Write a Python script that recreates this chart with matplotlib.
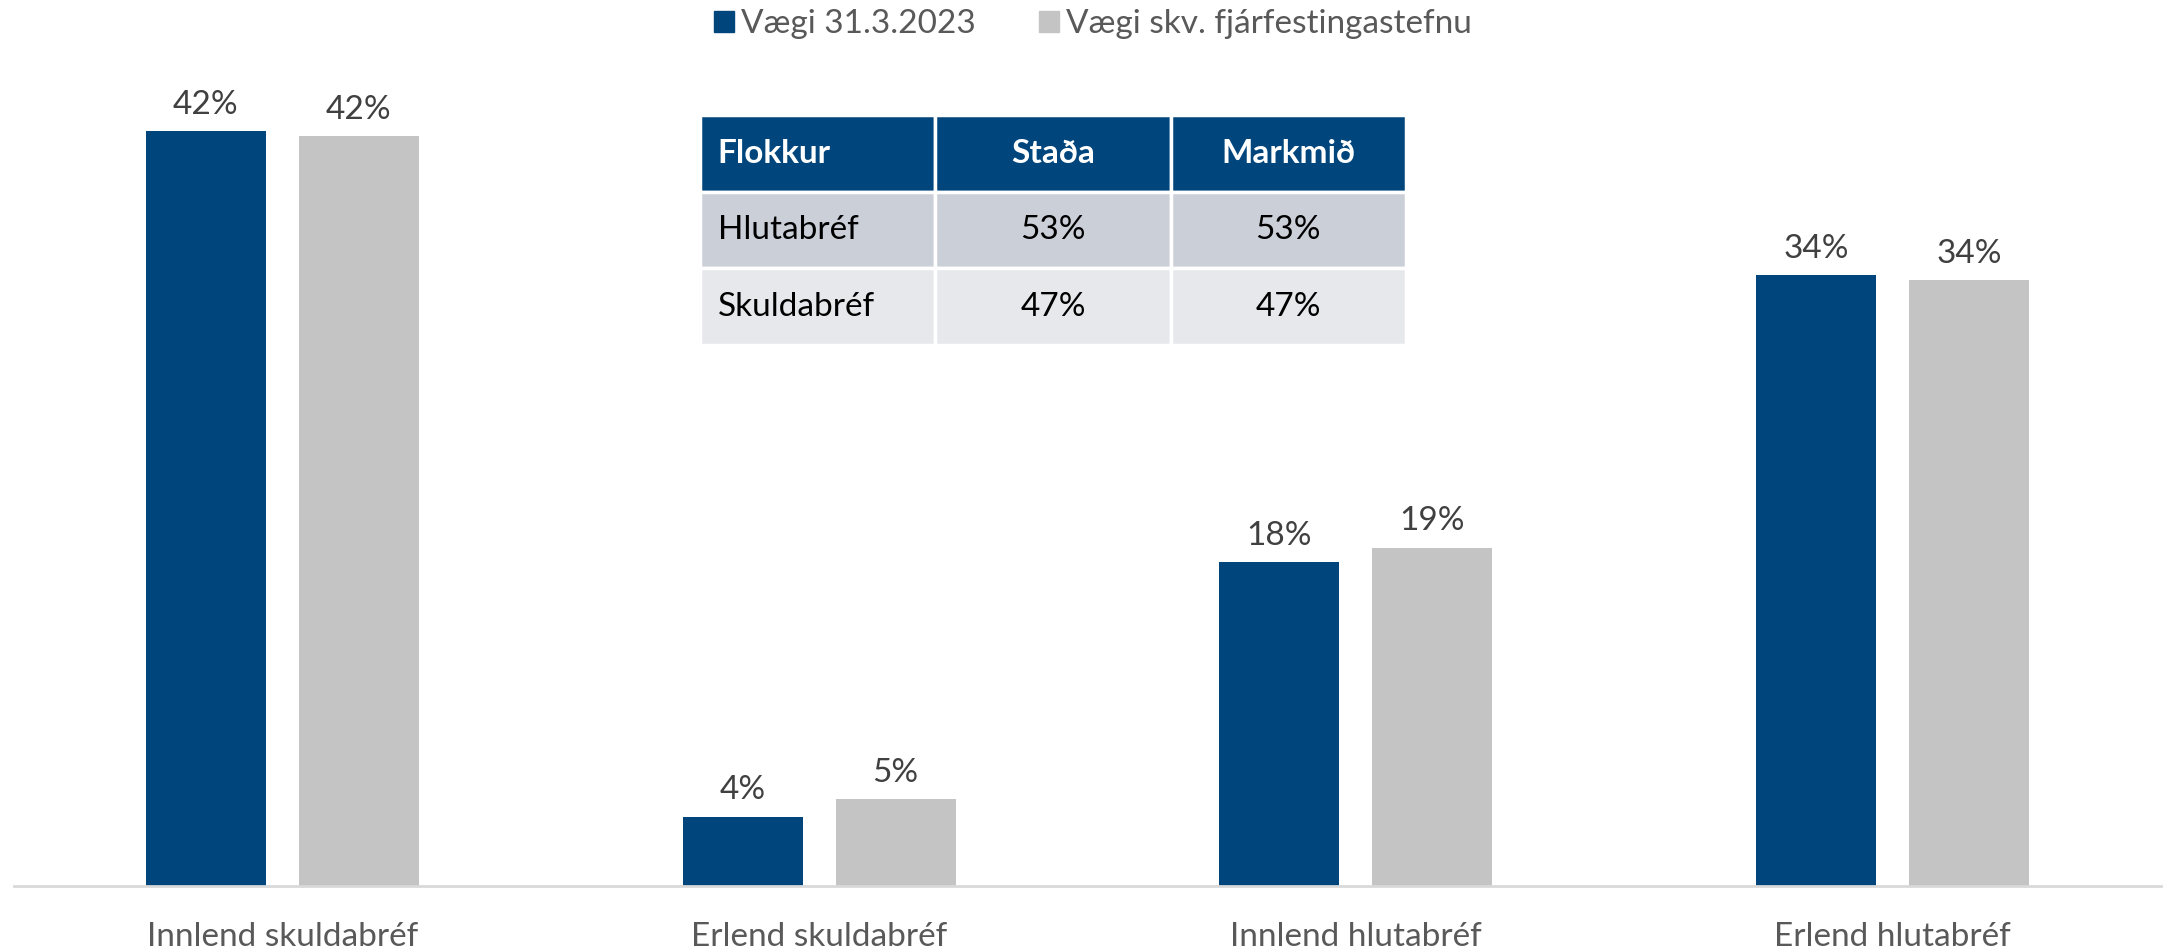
import matplotlib.pyplot as plt
import numpy as np
from matplotlib.patches import Patch
from matplotlib.table import Table

plt.rcParams['font.family'] = ['Lato', 'DejaVu Sans']

# Gögn
flokkar = ['Innlend skuldabréf', 'Erlend skuldabréf', 'Innlend hlutabréf', 'Erlend hlutabréf']
vaegi_stada = [42.4, 3.9, 18.2, 34.3]
vaegi_stefna = [42.1, 4.9, 19.0, 34.0]
rod_nofn = ['Vægi 31.3.2023', 'Vægi skv. fjárfestingastefnu']

tafla_haus = ['Flokkur', 'Staða', 'Markmið']
tafla_linur = [['Hlutabréf', '53%', '53%'],
               ['Skuldabréf', '47%', '47%']]

DARK = '#00467D'
GRAY = '#C4C4C4'
TXT = '#595959'

W, H = 2165, 951
fig = plt.figure(figsize=(W / 100, H / 100), dpi=100)
ax_left, ax_right, ax_bottom, ax_top = 14, 2161, 886, 100
ax = fig.add_axes([ax_left / W, (H - ax_bottom) / H,
                   (ax_right - ax_left) / W, (ax_bottom - ax_top) / H])

x = np.arange(len(flokkar))
bw = 0.2235
off = 0.1425
b1 = ax.bar(x - off, vaegi_stada, bw, color=DARK)
b2 = ax.bar(x + off, vaegi_stefna, bw, color=GRAY)

for bars, vals in ((b1, vaegi_stada), (b2, vaegi_stefna)):
    for rect, v in zip(bars, vals):
        ax.annotate(f'{v:.0f}%', (rect.get_x() + rect.get_width() / 2, v),
                    xytext=(0, 8), textcoords='offset points',
                    ha='center', va='bottom', fontsize=24, color='#404040')

ax.set_xlim(-0.5, 3.5)
ax.set_ylim(0, (ax_bottom - ax_top) / 17.81)
for s in ('left', 'right', 'top'):
    ax.spines[s].set_visible(False)
ax.spines['bottom'].set_color('#D9D9D9')
ax.spines['bottom'].set_linewidth(2)
ax.set_yticks([])
ax.set_xticks(x)
ax.set_xticklabels(flokkar, fontsize=24, color=TXT)
ax.tick_params(axis='x', length=0, pad=26)

# Skýringar
handles = [Patch(color=DARK), Patch(color=GRAY)]
fig.legend(handles, rod_nofn, loc='center', bbox_to_anchor=(1093 / W, 1 - 24 / H),
           ncol=2, frameon=False, fontsize=24, labelcolor=TXT,
           handlelength=0.6, handleheight=0.6, handletextpad=0.2,
           columnspacing=1.9, borderpad=0)

# Tafla
tx0, tx1, ty0, ty1 = 700, 1406, 115, 345
bbox = [(tx0 - ax_left) / (ax_right - ax_left), (ax_bottom - ty1) / (ax_bottom - ax_top),
        (tx1 - tx0) / (ax_right - ax_left), (ty1 - ty0) / (ax_bottom - ax_top)]
tbl = Table(ax, bbox=bbox)
n_rows = len(tafla_linur) + 1
row_bg = ['#CBCFD8', '#E7E8EC']
for c, txt in enumerate(tafla_haus):
    cell = tbl.add_cell(0, c, 1 / 3, 1 / n_rows, text=txt,
                        loc='left' if c == 0 else 'center',
                        facecolor=DARK, edgecolor='white')
    cell.get_text().set_color('white')
    cell.get_text().set_fontweight('bold')
    cell.PAD = 0.075
for r, row in enumerate(tafla_linur, start=1):
    for c, txt in enumerate(row):
        cell = tbl.add_cell(r, c, 1 / 3, 1 / n_rows, text=txt,
                            loc='left' if c == 0 else 'center',
                            facecolor=row_bg[r - 1], edgecolor='white')
        cell.get_text().set_color('black')
        cell.PAD = 0.075
for cell in tbl.get_celld().values():
    cell.set_linewidth(2.5)
tbl.auto_set_font_size(False)
tbl.set_fontsize(24)
ax.add_table(tbl)

fig.savefig('out.png', dpi=100)
